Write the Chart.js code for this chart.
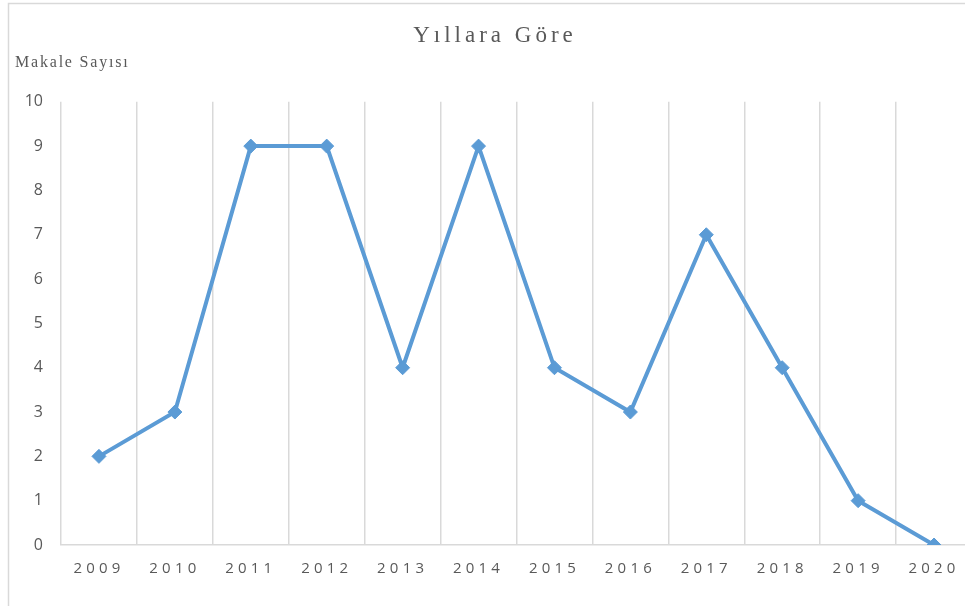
<!DOCTYPE html>
<html>
<head>
<meta charset="utf-8">
<script src="https://cdn.jsdelivr.net/npm/chart.js@4/dist/chart.umd.min.js"></script>
<style>
  html, body { margin: 0; padding: 0; background: #fff; overflow: hidden; }
  #wrap { position: absolute; left: 0; top: 0; width: 980px; height: 606px; }
</style>
</head>
<body>
<div id="wrap"><canvas id="c"></canvas></div>
<script>
const chartTitle = 'Yıllara Göre';
const axisLabel = 'Makale Sayısı';
const years = ['2009','2010','2011','2012','2013','2014','2015','2016','2017','2018','2019','2020'];
const articleCounts = [2, 3, 9, 9, 4, 9, 4, 3, 7, 4, 1, 0];
const yMin = 0, yMax = 10, yStep = 1;

const TEXT = '#595959';
const GRID = '#d9d9d9';
const BLUE = '#5b9bd5';

function withSpacing(obj, method, ls) {
  if (!obj || obj['_ls_' + method]) return;
  const orig = obj[method];
  obj[method] = function (...a) {
    const c = this.ctx;
    const prev = c.letterSpacing;
    c.letterSpacing = ls;
    try { return orig.apply(this, a); } finally { c.letterSpacing = prev; }
  };
  obj['_ls_' + method] = true;
}

const spacingPlugin = {
  id: 'spacing',
  beforeDraw(chart) {
    const ctx = chart.ctx;
    ctx.save();
    ctx.strokeStyle = GRID;
    ctx.lineWidth = 1.5;
    ctx.strokeRect(8.5, 3.5, 2000, 2000);
    ctx.restore();
    withSpacing(chart.scales.x, 'drawLabels', '4.2px');
    chart.boxes.forEach(b => {
      if (b.options && b.options.text === chartTitle) withSpacing(b, 'draw', '4px');
      else if (b.options && b.options.text === axisLabel) withSpacing(b, 'draw', '1.8px');
    });
  }
};

new Chart(document.getElementById('c'), {
  type: 'line',
  data: {
    labels: years,
    datasets: [{
      data: articleCounts,
      borderColor: BLUE,
      backgroundColor: BLUE,
      borderWidth: 4,
      pointStyle: 'rectRot',
      pointRadius: 7,
      pointBorderWidth: 1,
      pointBackgroundColor: BLUE,
      pointBorderColor: BLUE,
      tension: 0
    }]
  },
  options: {
    responsive: true,
    maintainAspectRatio: false,
    animation: false,
    layout: { padding: { left: 15, right: 5, top: 0, bottom: 0 } },
    plugins: {
      legend: { display: false },
      tooltip: { enabled: false },
      title: {
        display: true,
        text: chartTitle,
        color: TEXT,
        font: { family: '"Liberation Serif", "Times New Roman", serif', size: 23, weight: 'normal' },
        padding: { top: 22, bottom: 0 }
      },
      subtitle: {
        display: true,
        text: axisLabel,
        align: 'start',
        color: TEXT,
        font: { family: '"Liberation Serif", "Times New Roman", serif', size: 16, weight: 'normal' },
        padding: { top: 4, bottom: 29 }
      }
    },
    scales: {
      x: {
        offset: true,
        grid: { display: true, offset: true, color: GRID, lineWidth: 1.5, drawTicks: false },
        border: { display: true, color: GRID, width: 1.5 },
        ticks: {
          color: TEXT,
          font: { family: '"Open Sans", sans-serif', size: 15 },
          padding: 15,
          maxRotation: 0,
          autoSkip: false
        },
        afterFit(s) { s.height = 61; }
      },
      y: {
        min: yMin,
        max: yMax,
        grid: { display: false, drawTicks: false },
        border: { display: false },
        ticks: {
          stepSize: yStep,
          color: TEXT,
          font: { family: '"Open Sans", sans-serif', size: 16 },
          padding: 18
        },
        afterFit(s) { s.width = 46; }
      }
    }
  },
  plugins: [spacingPlugin]
});
</script>
</body>
</html>
